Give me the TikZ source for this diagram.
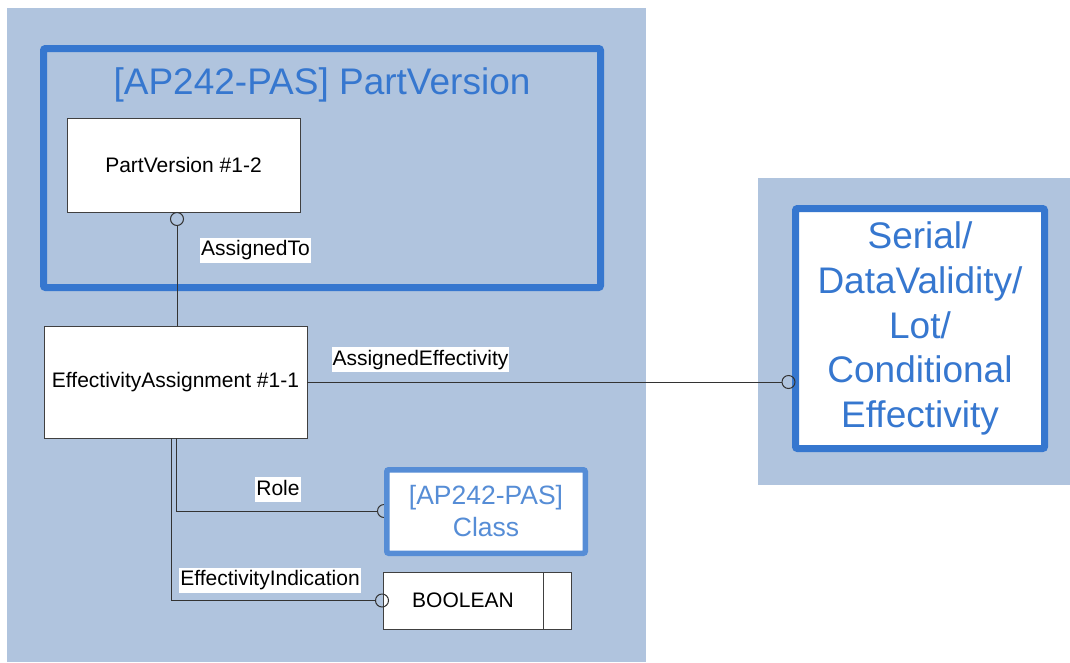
\documentclass[tikz,border=0pt]{standalone}
\usepackage{fontspec}
\setmainfont{Liberation Sans}
\usepackage{tikz}
\usetikzlibrary{arrows.meta,positioning}
\definecolor{paneblue}{HTML}{B0C4DE}
\definecolor{frameblue}{HTML}{3677CF}
\definecolor{clsblue}{HTML}{568DD6}
\newcommand{\bigsz}{\fontsize{37}{44.7}\selectfont}
\newcommand{\midsz}{\fontsize{26.5}{32}\selectfont}
\newcommand{\smsz}{\fontsize{21}{25}\selectfont}
\tikzset{
  pane/.style={fill=paneblue},
  frm/.style={draw=frameblue, line width=7pt, rounded corners=2pt, outer sep=0pt},
  inst/.style={draw=black!75, fill=white, line width=1pt, font=\smsz, inner sep=0pt, outer sep=0pt},
  lbl/.style={fill=white, font=\smsz, inner xsep=1pt, inner ysep=2pt, text height=16pt, text depth=5pt},
  lnk/.style={draw=black!80, line width=1pt},
  ring/.style={-{Circle[open, length=14pt, width=14pt]}}
}
\begin{document}
\begin{tikzpicture}[x=1pt, y=-1pt]
\useasboundingbox (0,0) rectangle (1070,662);
% panes
\fill[pane] (7,8) rectangle (646,662);
\fill[pane] (758,178) rectangle (1070,485);
% part version frame
\node[frm, minimum width=557pt, minimum height=239pt] (pvf) at (322,168) {};
\node[font=\bigsz, text=frameblue] (pvt) at (322,85) {[AP242-PAS] PartVersion};
\node[inst, minimum width=233pt, minimum height=94pt] (pv) at (183.5,165) {PartVersion \#1-2};
\node[inst, minimum width=263pt, minimum height=112pt] (ea) at (175.5,382) {EffectivityAssignment \#1-1};
\node[frm, fill=white, text=frameblue, font=\bigsz, align=center,
  minimum width=249pt, minimum height=240pt] (ser) at (920,328.5)
  {Serial/\\DataValidity/\\Lot/\\Conditional\\Effectivity};
\node[inst, minimum width=160pt, minimum height=57pt] (bool) at (463,600.5) {BOOLEAN};
\node[inst, minimum width=28pt, minimum height=57pt, right=0pt of bool] (boolx) {};
% connectors
\draw[lnk, ring] ([xshift=1.5pt]ea.north) -- ([xshift=1.5pt]ea.north |- pv.south);
\draw[lnk, ring] (ea.east) -- (ea.east -| ser.west);
\coordinate (roleend) at (391,511);
\draw[lnk, ring] ([xshift=0.5pt]ea.south) |- (roleend);
\draw[lnk, ring, shorten >=-6pt] ([xshift=-4.5pt]ea.south) |- (bool.west);
\node[frm, draw=clsblue, line width=5.5pt, fill=white, text=clsblue, font=\midsz, align=center,
  minimum width=198.5pt, minimum height=83.5pt] (cls) at (486,511.5) {[AP242-PAS]\\Class};
% labels
\node[lbl] (lto) at (255.5,250) {AssignedTo};
\node[lbl] (leff) at (420.5,359.5) {AssignedEffectivity};
\node[lbl] (lrole) at (278,489.5) {Role};
\node[lbl] (lind) at (270,580) {EffectivityIndication};
\end{tikzpicture}
\end{document}
